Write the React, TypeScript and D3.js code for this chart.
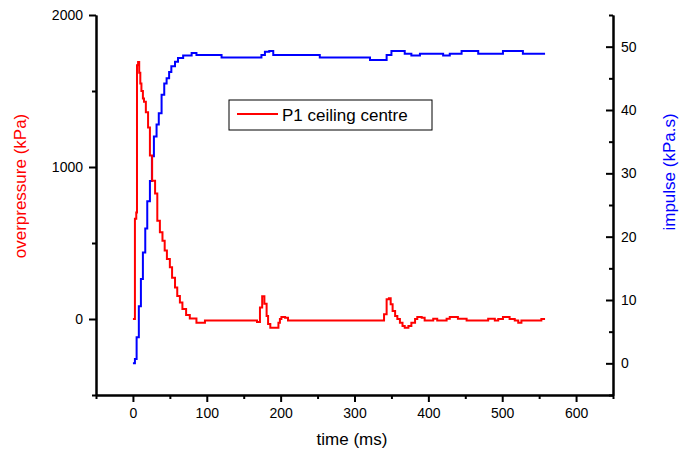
import React, { useEffect, useRef } from 'react'
import * as d3 from 'd3'

// overpressure trace (time in ms, kPa)
const pTime = [0, 2.7, 4.5, 5.5, 7, 8.5, 10, 11.5, 13.5, 15, 17.5, 20.5, 23, 26, 30, 33, 36.5, 40, 43, 46, 50, 53, 57, 60, 63.6, 67, 72, 77, 86, 97.5,
  168, 172, 175, 178, 181, 183, 186, 195, 197, 199, 201, 206, 210,
  340, 343.5, 346.6, 349, 351.6, 355, 358, 361.5, 365, 368, 373, 377, 382, 385, 391, 395, 406.6, 412, 424.7, 429, 440, 451.8,
  481, 490, 494.6, 501, 510, 517, 521.7, 526, 553, 558]
const pValue = [0, 660, 700, 1670, 1690, 1620, 1550, 1500, 1450, 1430, 1360, 1260, 1075, 910, 825, 647, 570, 515, 450, 395, 340, 272, 207, 152, 108, 66, 26, 4, -24, -10,
  -20, 75, 150, 100, 20, -33, -57, -57, -24, 0, 13, 9, -10,
  31, 130, 136, 97, 53, 20, 0, -24, -46, -57, -46, -24, 0, 13, 9, -10, 2, -10, 2, 13, 2, -10,
  2, -10, 0, 13, 0, -10, -24, -10, 0, 0]

// impulse trace (time in ms, kPa.s)
const iTime = [0, 2.7, 5, 8, 10.8, 13.5, 16.7, 19.4, 23, 25.7, 28.4, 32, 35, 38.8, 42.4, 45.6, 49, 52, 57, 61, 68, 79.5, 86, 120,
  174, 178.7, 184.6, 190, 253, 321, 343.5, 350, 368, 377, 388.6, 420, 429, 445, 467.5, 501, 528, 558]
const iValue = [0, 0.7, 4.1, 9, 13.3, 17.5, 21.3, 25.6, 28.8, 32.7, 35.8, 37.7, 39.5, 42.4, 44.2, 45, 46, 46.9, 47.6, 48.2, 48.6, 49, 48.7, 48.3,
  48.7, 49.2, 49.3, 48.7, 48.3, 47.9, 48.7, 49.3, 48.9, 48.6, 48.9, 48.6, 48.9, 49.3, 48.9, 49.3, 48.9, 48.9]

const xMajor = [0, 100, 200, 300, 400, 500, 600]
const xMinor = [-50, 50, 150, 250, 350, 450, 550, 650]
const pMajor = [0, 1000, 2000]
const pMinor = [-500, 500, 1500]
const iMajor = [0, 10, 20, 30, 40, 50]
const iMinor = [-5, 5, 15, 25, 35, 45, 55]

const legendLabel = 'P1 ceiling centre'

const W = 681
const H = 459
const margin = { top: 15, right: 68, bottom: 64, left: 96 }
const FONT = '"Liberation Sans", Arial, sans-serif'

export default function App() {
  const ref = useRef<SVGSVGElement>(null)

  const x = d3.scaleLinear().domain([-50, 650]).range([margin.left, W - margin.right])
  const yP = d3.scaleLinear().domain([-500, 2000]).range([H - margin.bottom, margin.top])
  const yI = d3.scaleLinear().domain([-5, 55]).range([H - margin.bottom, margin.top])

  const pLine = d3.line<number>()
    .x((_, i) => x(pTime[i]))
    .y(d => yP(d))
    .curve(d3.curveStepAfter)
  const iLine = d3.line<number>()
    .x((_, i) => x(iTime[i]))
    .y(d => yI(d))
    .curve(d3.curveStepAfter)

  useEffect(() => {
    const svg = d3.select(ref.current)
    const bottom = H - margin.bottom
    const right = W - margin.right
    const fmt = d3.format('d')

    const style = (g: any) => {
      g.selectAll('path, line').attr('stroke', '#000').attr('stroke-width', 2)
      g.selectAll('text').attr('font-family', FONT).attr('font-size', 14).attr('fill', '#000')
    }

    svg.select('.x-major').attr('transform', `translate(0,${bottom})`)
      .call(d3.axisBottom(x).tickValues(xMajor).tickFormat(fmt).tickSizeInner(7).tickSizeOuter(0).tickPadding(6) as any)
      .call(style)
    svg.select('.x-minor').attr('transform', `translate(0,${bottom})`)
      .call(d3.axisBottom(x).tickValues(xMinor).tickFormat(() => '').tickSizeInner(4).tickSizeOuter(0) as any)
      .call(style)

    svg.select('.p-major').attr('transform', `translate(${margin.left},0)`)
      .call(d3.axisLeft(yP).tickValues(pMajor).tickFormat(fmt).tickSizeInner(7).tickSizeOuter(0).tickPadding(6) as any)
      .call(style)
    svg.select('.p-minor').attr('transform', `translate(${margin.left},0)`)
      .call(d3.axisLeft(yP).tickValues(pMinor).tickFormat(() => '').tickSizeInner(4).tickSizeOuter(0) as any)
      .call(style)

    // right axis ticks point into the plot, labels sit outside
    svg.select('.i-major').attr('transform', `translate(${right},0)`)
      .call(d3.axisRight(yI).tickValues(iMajor).tickFormat(fmt).tickSizeInner(-7).tickSizeOuter(0).tickPadding(8) as any)
      .call(style)
    svg.select('.i-minor').attr('transform', `translate(${right},0)`)
      .call(d3.axisRight(yI).tickValues(iMinor).tickFormat(() => '').tickSizeInner(-4).tickSizeOuter(0) as any)
      .call(style)
  }, [])

  return (
    <svg ref={ref} width={W} height={H} style={{ position: 'absolute', left: 0, top: 0, background: '#fff' }}>
      <path d={iLine(iValue) || ''} fill="none" stroke="#0000ff" strokeWidth={2} />
      <path d={pLine(pValue) || ''} fill="none" stroke="#ff0000" strokeWidth={2} />

      <g className="x-major" />
      <g className="x-minor" />
      <g className="p-major" />
      <g className="p-minor" />
      <g className="i-major" />
      <g className="i-minor" />

      <g>
        <rect x={229} y={100} width={203} height={30} fill="#fff" stroke="#000" strokeWidth={1} />
        <line x1={237} x2={278} y1={114} y2={114} stroke="#ff0000" strokeWidth={2} />
        <text x={282} y={121} fontFamily={FONT} fontSize={17} fill="#000">{legendLabel}</text>
      </g>

      <text x={352} y={445} textAnchor="middle" fontFamily={FONT} fontSize={17} fill="#000">time (ms)</text>
      <text transform="translate(26,186) rotate(-90)" textAnchor="middle" fontFamily={FONT} fontSize={17} fill="#ff0000">overpressure (kPa)</text>
      <text transform="translate(675,172) rotate(-90)" textAnchor="middle" fontFamily={FONT} fontSize={17} fill="#0000ff">impulse (kPa.s)</text>
    </svg>
  )
}
